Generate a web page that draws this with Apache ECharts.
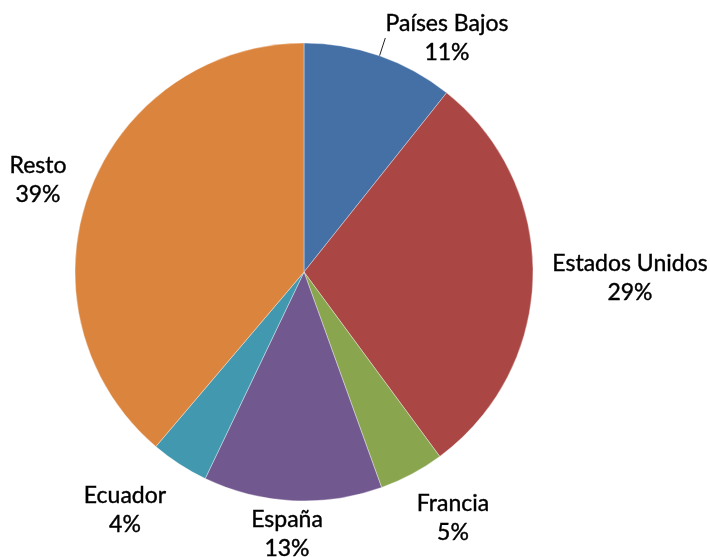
<!DOCTYPE html>
<html>
<head>
<meta charset="utf-8">
<script src="https://cdn.jsdelivr.net/npm/echarts@6/dist/echarts.min.js"></script>
<style>
html,body{margin:0;padding:0;background:#fff;}
#chart{width:710px;height:557px;}
</style>
</head>
<body>
<div id="chart"></div>
<script>
const categories = ['Países Bajos', 'Estados Unidos', 'Francia', 'España', 'Ecuador', 'Resto'];
const shares = [10.7, 29.2, 4.6, 12.6, 4.1, 38.8];

const colors = ['#4470A6', '#AA4643', '#89A54E', '#71588F', '#4198AF', '#DB843D'];
// label box centres (layout only)
const labelCentres = [[447, 38], [630, 278], [453, 518], [287, 534], [125, 510], [38, 180]];
const leaderFor = ['Países Bajos'];

const chart = echarts.init(document.getElementById('chart'), null, {renderer: 'canvas'});
chart.setOption({
  animation: false,
  color: colors,
  series: [{
    type: 'pie',
    center: [304, 272],
    radius: 229,
    startAngle: 90,
    clockwise: true,
    avoidLabelOverlap: false,
    itemStyle: {borderColor: 'rgba(255,255,255,0.45)', borderWidth: 0.8},
    label: {
      show: true,
      position: 'outside',
      fontFamily: 'Lato',
      fontSize: 23,
      lineHeight: 29,
      color: '#000',
      textBorderColor: '#000',
      textBorderWidth: 0.4,
      align: 'center',
      formatter: p => p.name + '\n' + Math.round(p.percent) + '%'
    },
    labelLine: {show: true, length: 8, length2: 0, lineStyle: {color: '#222', width: 1}},
    labelLayout: function (params) {
      const c = labelCentres[params.dataIndex];
      return {x: c[0], y: c[1], align: 'center', verticalAlign: 'middle'};
    },
    emphasis: {disabled: true},
    data: categories.map((n, i) => ({
      name: n,
      value: shares[i],
      labelLine: {show: leaderFor.indexOf(n) >= 0}
    }))
  }]
});
</script>
</body>
</html>
